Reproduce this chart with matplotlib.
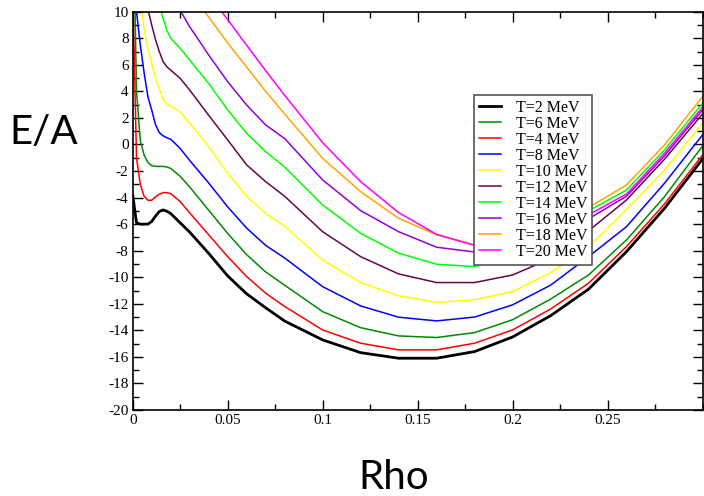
import matplotlib
matplotlib.use('Agg')
import matplotlib.pyplot as plt
from matplotlib.ticker import MultipleLocator

# density grid (fm^-3)
rho = [0, 0.002, 0.004, 0.006, 0.008, 0.01, 0.012, 0.014, 0.016, 0.018, 0.02,
       0.025, 0.03, 0.04, 0.05, 0.06, 0.07, 0.08, 0.1, 0.12, 0.14, 0.16, 0.18,
       0.2, 0.22, 0.24, 0.26, 0.28, 0.3]

# E/A (MeV) for each temperature
e_t2 = [-3.8, -5.9, -6.0, -6.0, -6.0, -5.8, -5.4, -5.05, -4.93, -5.03, -5.2,
        -5.9, -6.6, -8.2, -9.9, -11.25, -12.3, -13.3, -14.72, -15.68, -16.1,
        -16.1, -15.6, -14.5, -12.9, -10.9, -8.07, -4.81, -1.1]
e_t4 = [12, -1.0, -3.0, -3.9, -4.2, -4.2, -3.95, -3.75, -3.63, -3.63, -3.7,
        -4.3, -5.15, -6.8, -8.45, -9.95, -11.2, -12.2, -13.97, -14.97, -15.47,
        -15.47, -14.97, -13.97, -12.4, -10.45, -7.69, -4.48, -0.8]
e_t6 = [20, 4.0, 0.3, -0.8, -1.35, -1.6, -1.65, -1.65, -1.65, -1.7, -1.8,
        -2.4, -3.2, -4.95, -6.7, -8.3, -9.6, -10.6, -12.59, -13.8, -14.42,
        -14.54, -14.17, -13.2, -11.65, -9.83, -7.19, -3.93, -0.12]
e_t8 = [25, 10, 7.5, 5.4, 3.6, 2.6, 1.5, 0.9, 0.65, 0.5, 0.4,
        -0.3, -1.2, -2.9, -4.7, -6.3, -7.6, -8.55, -10.71, -12.16, -13.01,
        -13.29, -13.0, -12.08, -10.6, -8.45, -6.19, -2.92, 0.72]
e_t10 = [40, 18, 11, 8.7, 7.2, 6.1, 5.0, 4.2, 3.4, 3.05, 2.9,
         2.45, 1.6, -0.16, -2.17, -3.9, -5.2, -6.15, -8.7, -10.4, -11.4,
         -11.89, -11.7, -11.08, -9.65, -7.7, -4.9, -1.92, 1.6]
e_t12 = [50, 30, 18, 13, 10.2, 9.0, 7.9, 7.0, 6.24, 5.85, 5.6,
         4.98, 4.1, 2.2, 0.34, -1.54, -2.8, -3.9, -6.57, -8.45, -9.75,
         -10.4, -10.4, -9.83, -8.6, -6.5, -4.18, -1.11, 2.3]
e_t14 = [60, 45, 35, 28, 24, 20, 14, 10.6, 9.5, 8.6, 8.0,
         7.24, 6.36, 4.6, 2.6, 0.84, -0.54, -1.7, -4.56, -6.69, -8.19,
         -9.02, -9.2, -8.3, -6.9, -5.0, -3.43, -0.41, 3.1]
e_t16 = [70, 55, 45, 38, 32, 28, 24, 20, 17.5, 15.5, 13,
         10.1, 8.87, 6.74, 4.73, 2.97, 1.47, 0.45, -2.67, -4.98, -6.57,
         -7.74, -8.1, -7.6, -6.6, -5.6, -3.9, -0.86, 2.6]
e_t18 = [80, 65, 55, 48, 42, 37, 33, 29, 26, 23, 20.5,
         16, 11.5, 9.6, 7.65, 5.83, 4.0, 2.3, -1.04, -3.55, -5.56,
         -6.81, -7.57, -7.2, -6.2, -4.75, -3.05, -0.04, 3.6]
e_t20 = [90, 75, 65, 57, 50, 45, 40, 36, 32, 28, 25,
         19, 13.2, 11.3, 9.4, 7.47, 5.56, 3.7, 0.14, -2.8, -5.13,
         -6.77, -7.6, -7.4, -6.5, -5.3, -3.73, -0.66, 2.8]

names = ['T=2 MeV', 'T=4 MeV', 'T=6 MeV', 'T=8 MeV', 'T=10 MeV',
         'T=12 MeV', 'T=14 MeV', 'T=16 MeV', 'T=18 MeV', 'T=20 MeV']
# legend order as in the original (T=6 and T=4 swapped there)
labels = ['T=2 MeV', 'T=6 MeV', 'T=4 MeV', 'T=8 MeV', 'T=10 MeV',
          'T=12 MeV', 'T=14 MeV', 'T=16 MeV', 'T=18 MeV', 'T=20 MeV']
series = [e_t2, e_t4, e_t6, e_t8, e_t10, e_t12, e_t14, e_t16, e_t18, e_t20]
colors = ['black', '#ff0000', '#008b00', '#0000ff', '#ffff00',
          '#670748', '#00ff00', '#9400d3', '#ffa500', '#ff00ff']
widths = [2.0, 1.1, 1.1, 1.1, 1.1, 1.1, 1.1, 1.1, 1.1, 1.1]

plt.rcParams['font.family'] = ['Liberation Serif', 'DejaVu Serif']
plt.rcParams['axes.unicode_minus'] = False

fig = plt.figure(figsize=(7.04, 4.96), dpi=100)
ax = fig.add_axes([132.7 / 704, 1 - 410 / 496, (702.5 - 132.7) / 704, (410 - 11.7) / 496])

handles = {}
for y, c, lw, name in zip(series, colors, widths, names):
    line, = ax.plot(rho, y, color=c, lw=lw)
    handles[name] = line

ax.set_xlim(0, 0.3)
ax.set_ylim(-20, 10)
ax.xaxis.set_minor_locator(MultipleLocator(0.025))
ax.yaxis.set_major_locator(MultipleLocator(2))
ax.yaxis.set_minor_locator(MultipleLocator(1))
ax.set_xticks([0, 0.05, 0.1, 0.15, 0.2, 0.25])
ax.set_xticklabels(['0', '0.05', '0.1', '0.15', '0.2', '0.25'])
ax.tick_params(which='both', direction='in', top=True, right=True,
               labelsize=11, width=1.0, pad=3)
ax.tick_params(which='major', length=7.5)
ax.tick_params(which='minor', length=4.3)
for s in ax.spines.values():
    s.set_linewidth(1.2)

leg = ax.legend([handles[l] for l in labels], labels, loc='upper left',
                bbox_to_anchor=((474 - 132.7) / 569.8, (410 - 95) / 398.3),
                borderaxespad=0, fontsize=11.5, labelspacing=0.0,
                handlelength=1.4, handletextpad=0.9, borderpad=0.3,
                fancybox=False, framealpha=1, edgecolor='#555555')
leg.get_frame().set_linewidth(1.2)

fig.text(44 / 704, 1 - 144 / 496, 'E/A', fontsize=29, family=['Lato', 'DejaVu Sans'],
         ha='center', va='baseline')
fig.text(394 / 704, 1 - 489 / 496, 'Rho', fontsize=29, family=['Lato', 'DejaVu Sans'],
         ha='center', va='baseline')

fig.savefig('out.png', dpi=100)
